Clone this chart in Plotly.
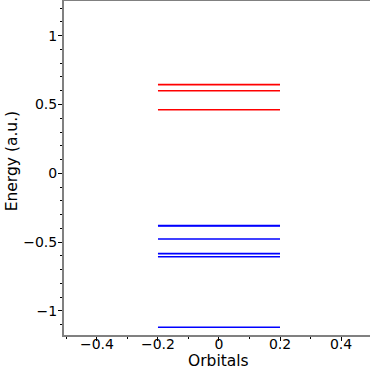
import plotly.graph_objects as go

# Orbital energies (a.u.)
virtual_energies = [0.644, 0.600, 0.462]
occupied_energies = [-0.379, -0.383, -0.477, -0.584, -0.606, -1.119]
level_x = [-0.2, 0.2]
x_ticks = [-0.4, -0.2, 0, 0.2, 0.4]
y_ticks = [-1, -0.5, 0, 0.5, 1]

def level_trace(energies, color):
    xs, ys = [], []
    for e in energies:
        xs += [level_x[0], level_x[1], None]
        ys += [e, e, None]
    return go.Scatter(x=xs, y=ys, mode="lines", line=dict(color=color, width=1.6),
                      showlegend=False, hoverinfo="skip")

fig = go.Figure()
fig.add_trace(level_trace(virtual_energies, "#ff0000"))
fig.add_trace(level_trace(occupied_energies, "#0000ff"))

font = dict(family="DejaVu Sans", size=14, color="black")
title_font = dict(family="DejaVu Sans", size=15.5, color="black")
fig.update_layout(
    width=370, height=370,
    margin=dict(l=64, r=0, t=1, b=35, autoexpand=False),
    paper_bgcolor="white", plot_bgcolor="white",
    font=font,
    xaxis=dict(
        range=[-0.508, 0.495], tickvals=x_ticks, automargin=False,
        showgrid=False, zeroline=False,
        showline=True, linecolor="#808080", linewidth=2, mirror=True,
        ticks="outside", ticklen=4, tickwidth=1, tickcolor="black",
        minor=dict(dtick=0.1, tick0=0, ticks="outside", ticklen=2, tickcolor="black", showgrid=False),
        tickfont=font, ticklabelstandoff=-9,
    ),
    yaxis=dict(
        range=[-1.175, 1.252], tickvals=y_ticks, automargin=False,
        showgrid=False, zeroline=False,
        showline=True, linecolor="#808080", linewidth=2,
        ticks="outside", ticklen=4, tickwidth=1, tickcolor="black",
        minor=dict(dtick=0.1, tick0=0, ticks="outside", ticklen=2, tickcolor="black", showgrid=False),
        tickfont=font, ticklabelstandoff=-2,
    ),
    annotations=[
        dict(text="Orbitals", xref="x", yref="paper", x=0, y=-0.078,
             showarrow=False, font=title_font, xanchor="center", yanchor="middle"),
        dict(text="Energy (a.u.)", xref="paper", yref="paper", x=-0.17, y=0.52,
             showarrow=False, font=title_font, textangle=-90, xanchor="center", yanchor="middle"),
    ],
)
fig.write_html("out.html", config={"displayModeBar": False},
               post_script="document.body.style.margin='0';")
